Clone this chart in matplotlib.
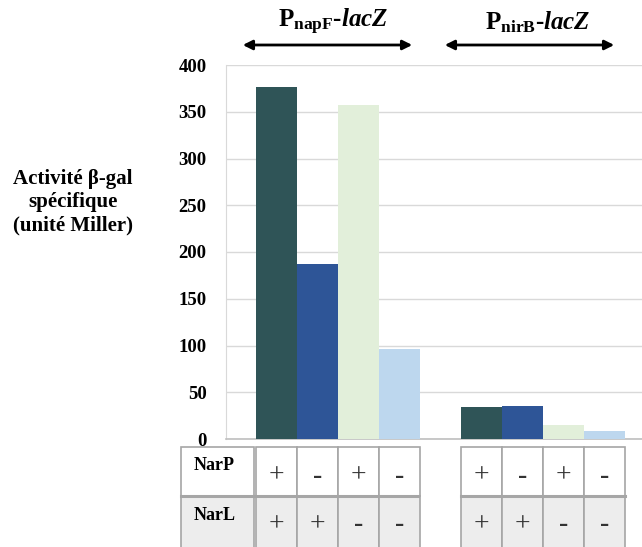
import matplotlib
matplotlib.use("Agg")
import matplotlib.pyplot as plt
from matplotlib.patches import Rectangle

plt.rcParams['font.family'] = ['Liberation Serif', 'DejaVu Serif']
plt.rcParams['mathtext.fontset'] = 'custom'
plt.rcParams['mathtext.rm'] = 'Liberation Serif:bold'
plt.rcParams['mathtext.it'] = 'Liberation Serif:italic:bold'
plt.rcParams['mathtext.bf'] = 'Liberation Serif:bold'

# data
groups = [r"$\mathrm{P}_{\mathrm{napF}}$-$\mathit{lacZ}$",
          r"$\mathrm{P}_{\mathrm{nirB}}$-$\mathit{lacZ}$"]
napF_values = [377, 187, 357, 96]
nirB_values = [34, 35.5, 15, 8.5]
bar_colors = ['#2F5457', '#2E5597', '#E2EFDA', '#BDD7EE']
narP = ['+', '-', '+', '-']
narL = ['+', '+', '-', '-']
yticks = [0, 50, 100, 150, 200, 250, 300, 350, 400]

W, H = 642, 547
fig = plt.figure(figsize=(W / 100, H / 100), dpi=100)

def fx(px):
    return px / W

def fy(py):
    return 1 - py / H

# main axes, units: group spacing = 1, bar width = 0.2
x0, x1 = -0.546, 1.483
ax = fig.add_axes([fx(226), fy(439), fx(642) - fx(226), fy(65) - fy(439)])
bw = 0.2
for gi, vals in enumerate([napF_values, nirB_values]):
    for bi, v in enumerate(vals):
        ax.bar(gi - 0.3 + bi * bw, v, width=bw, color=bar_colors[bi], zorder=3)
ax.set_xlim(x0, x1)
ax.set_ylim(0, 400)
ax.set_yticks(yticks)
ax.set_yticklabels([str(t) for t in yticks], fontsize=13.5, fontweight='bold')
ax.tick_params(axis='y', length=0, pad=14)
ax.set_xticks([])
ax.grid(axis='y', color='#D9D9D9', lw=1, zorder=0)
for s in ['top', 'right']:
    ax.spines[s].set_visible(False)
ax.spines['left'].set_color('#D9D9D9')
ax.spines['bottom'].set_color('#BFBFBF')
ax.spines['bottom'].set_linewidth(1.2)

fig.text(fx(73), fy(202), "Activité β-gal\nspécifique\n(unité Miller)",
         ha='center', va='center', fontsize=15, fontweight='bold', linespacing=1.2)

# group headers and arrows
for gi, label in enumerate(groups):
    cx = 338 + gi * 205
    fig.text(fx(cx - 5), fy(22), label, ha='center', va='center',
             fontsize=18, fontweight='bold')
    ax_l, ax_r = (240, 415) if gi == 0 else (442, 617)
    fig.add_artist(matplotlib.patches.FancyArrowPatch(
        (fx(ax_l), fy(45)), (fx(ax_r), fy(45)), transform=fig.transFigure,
        arrowstyle='<|-|>', mutation_scale=14, lw=2, color='black'))

# table below the chart
tx0 = x0 - 46 / 205
tab = fig.add_axes([fx(180), fy(547), fx(642) - fx(180), fy(447) - fy(547)])
tab.set_xlim(tx0, x1)
tab.set_ylim(0, 100)
tab.axis('off')
row_tops = [100, 51]
row_h = [49, 55]
row_bg = ['white', '#EDEDED']
edge = '#A6A6A6'
for ri, (names, label) in enumerate([(narP, 'NarP'), (narL, 'NarL')]):
    top = row_tops[ri]
    bot = top - row_h[ri]
    # label cell
    tab.add_patch(Rectangle((tx0 + 0.005, bot), -0.41 - tx0 - 0.005, row_h[ri],
                            facecolor=row_bg[ri], edgecolor=edge, lw=1.2, clip_on=False))
    tab.text(tx0 + 0.065, top - 19, label, ha='left', va='center',
             fontsize=13, fontweight='bold')
    for gi in range(2):
        for bi, sym in enumerate(names):
            left = gi - 0.4 + bi * bw
            tab.add_patch(Rectangle((left, bot), bw, row_h[ri], facecolor=row_bg[ri],
                                    edgecolor=edge, lw=1.2, clip_on=False))
            if sym == '+':
                tab.text(left + bw / 2, top - 29, '+', ha='center', va='center',
                         fontsize=20, color='#333333')
            else:
                tab.text(left + bw / 2, top - 29, '-', ha='center', va='center',
                         fontsize=20, fontweight='bold', color='#333333')
tab.plot([tx0 + 0.005, -0.41 + 4 * bw], [51, 51], color='#A6A6A6', lw=2.2, clip_on=False)
tab.plot([0.6, 1.4], [51, 51], color='#A6A6A6', lw=2.2, clip_on=False)

fig.savefig('out.png', dpi=100)
